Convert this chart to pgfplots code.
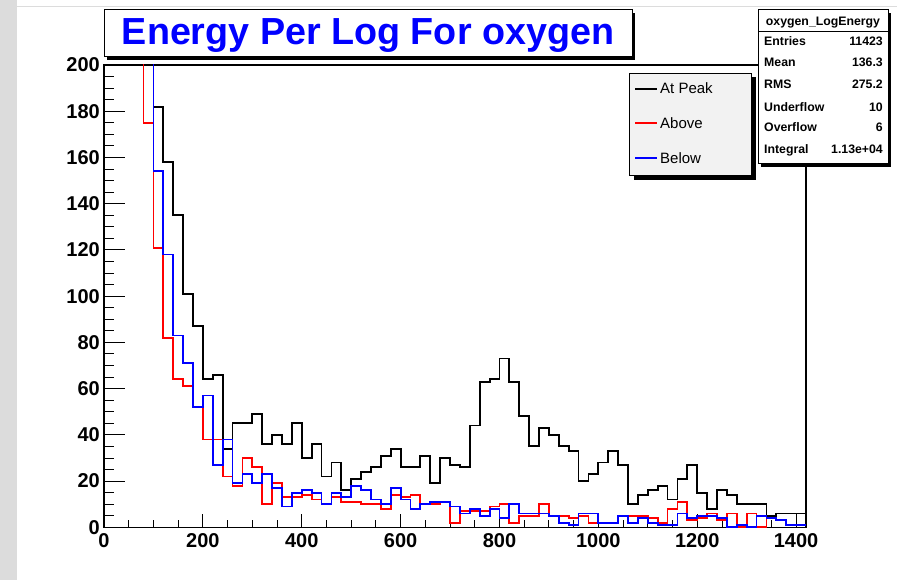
\documentclass[border=0pt]{standalone}
\usepackage{pgfplots}
\pgfplotsset{compat=1.18}
\usepackage{pgfplotstable}
\usepackage{fontspec}
\setmainfont{Liberation Sans}

\definecolor{histred}{rgb}{1,0,0}
\definecolor{histblue}{rgb}{0,0,1}
\definecolor{sidegray}{RGB}{220,220,220}
\definecolor{legendfill}{RGB}{242,242,242}

% bin left edges (width 20) and counts; last row closes the final bin
\pgfplotstableread{
x y
0 3000
20 2600
40 1800
60 900
80 400
100 182
120 158
140 135
160 101
180 87
200 64
220 66
240 34
260 45
280 45
300 49
320 36
340 40
360 36
380 45
400 30
420 36
440 22
460 28
480 16
500 21
520 24
540 26
560 31
580 34
600 26
620 26
640 31
660 19
680 30
700 27
720 26
740 44
760 63
780 64
800 73
820 63
840 48
860 35
880 43
900 40
920 35
940 33
960 20
980 23
1000 28
1020 33
1040 27
1060 10
1080 14
1100 16
1120 18
1140 12
1160 21
1180 27
1200 15
1220 8
1240 16
1260 14
1280 10
1300 10
1320 10
1340 5
1360 6
1380 6
1400 6
1420 6
}\tabpeak

\pgfplotstableread{
x y
0 2000
20 1600
40 900
60 300
80 175
100 121
120 82
140 64
160 61
180 52
200 38
220 38
240 22
260 18
280 30
300 26
320 10
340 19
360 13
380 13
400 14
420 12
440 10
460 13
480 11
500 11
520 10
540 10
560 8
580 14
600 13
620 14
640 10
660 10
680 11
700 2
720 7
740 7
760 7
780 9
800 10
820 2
840 5
860 5
880 10
900 5
920 5
940 4
960 5
980 2
1000 2
1020 2
1040 5
1060 5
1080 5
1100 4
1120 2
1140 8
1160 11
1180 3
1200 4
1220 6
1240 3
1260 6
1280 0
1300 6
1320 0
1340 4
1360 3
1380 1
1400 1
1420 1
}\tababove

\pgfplotstableread{
x y
0 2200
20 1900
40 1000
60 500
80 260
100 154
120 118
140 83
160 71
180 52
200 57
220 27
240 38
260 19
280 23
300 19
320 23
340 17
360 9
380 15
400 16
420 15
440 10
460 15
480 13
500 18
520 16
540 12
560 10
580 17
600 12
620 8
640 10
660 11
680 11
700 9
720 6
740 8
760 5
780 8
800 4
820 10
840 6
860 6
880 6
900 5
920 2
940 1
960 6
980 6
1000 2
1020 2
1040 5
1060 2
1080 4
1100 2
1120 1
1140 1
1160 6
1180 4
1200 5
1220 5
1240 4
1260 0
1280 1
1300 0
1320 5
1340 4
1360 3
1380 1
1400 1
1420 1
}\tabbelow

\pgfplotsset{
  histframe/.style={
    at={(104pt,-527.3pt)}, anchor=south west,
    scale only axis, width=702pt, height=462.3pt,
    xmin=0, xmax=1420, ymin=0, ymax=200,
    tick align=inside,
    tick style={line width=0.9pt, black},
    /pgf/number format/assume math mode=true,
    /pgf/number format/1000 sep={},
    ticklabel style={font=\fontsize{20}{20}\selectfont\bfseries, inner sep=0pt},
  },
}

\begin{document}
\begin{tikzpicture}
  \path[use as bounding box] (0,0) rectangle (897pt,-580pt);
  \fill[white] (0,0) rectangle (897pt,-580pt);
  \fill[sidegray] (0,0) rectangle (17pt,-580pt);
  \draw[sidegray, line width=1pt] (17pt,-6.5pt) -- (897pt,-6.5pt);

  % histogram frame with x ticks and the three distributions
  \begin{axis}[histframe,
      xtick={0,200,...,1400}, minor x tick num=3,
      ytick=\empty, xtick pos=left,
      major tick length=13pt, minor tick length=7pt,
      axis line style={line width=1.1pt},
      xticklabel style={anchor=north, yshift=-6pt},
    ]
    \addplot[const plot, color=black, line width=1.8pt] table[x=x, y=y] {\tabpeak};
    \addplot[const plot, color=histred, line width=1.8pt] table[x=x, y=y] {\tababove};
    \addplot[const plot, color=histblue, line width=1.8pt] table[x=x, y=y] {\tabbelow};
  \end{axis}

  % y ticks (longer than the x ticks)
  \begin{axis}[histframe,
      ytick={0,20,...,200}, minor y tick num=3,
      xtick=\empty, ytick pos=left,
      major tick length=21pt, minor tick length=10pt,
      axis line style={draw=none},
      yticklabel style={anchor=east, xshift=-4pt},
    ]
  \end{axis}

  % title box
  \fill[black] (107pt,-13pt) rectangle (635pt,-60pt);
  \filldraw[fill=white, draw=black, line width=1pt] (104pt,-10pt) rectangle (632pt,-57pt);
  \node[font=\fontsize{37.7}{40}\selectfont\bfseries, text=histblue, anchor=base, inner sep=0pt]
    at (368pt,-45pt) {Energy Per Log For oxygen};

  % legend
  \fill[black] (633.5pt,-77.5pt) rectangle (755.5pt,-180pt);
  \filldraw[fill=legendfill, draw=black, line width=1pt] (629.5pt,-73.5pt) rectangle (751.5pt,-176pt);
  \begin{scope}[every node/.style={font=\fontsize{15}{16}\selectfont, anchor=base west, inner sep=0pt}]
    \draw[color=black, line width=1.5pt] (635pt,-89pt) -- (657pt,-89pt);
    \node at (660pt,-94pt) {At Peak};
    \draw[color=histred, line width=1.5pt] (635pt,-123pt) -- (657pt,-123pt);
    \node at (660pt,-128.5pt) {Above};
    \draw[color=histblue, line width=1.5pt] (635pt,-158pt) -- (657pt,-158pt);
    \node at (660pt,-163.5pt) {Below};
  \end{scope}

  % statistics box
  \fill[black] (761pt,-13pt) rectangle (891pt,-167pt);
  \filldraw[fill=white, draw=black, line width=1pt] (758pt,-10pt) rectangle (888pt,-164pt);
  \draw[black, line width=0.8pt] (758pt,-31.5pt) -- (888pt,-31.5pt);
  \begin{scope}[every node/.style={font=\fontsize{12.3}{13}\selectfont\bfseries, inner sep=0pt}]
    \node[anchor=base] at (823pt,-25.5pt) {oxygen\_LogEnergy};
    \node[anchor=base west] at (764pt,-45.5pt) {Entries};
    \node[anchor=base east] at (883pt,-45.5pt) {11423};
    \node[anchor=base west] at (764pt,-67pt) {Mean};
    \node[anchor=base east] at (883pt,-67pt) {136.3};
    \node[anchor=base west] at (764pt,-89pt) {RMS};
    \node[anchor=base east] at (883pt,-89pt) {275.2};
    \node[anchor=base west] at (764pt,-111.3pt) {Underflow};
    \node[anchor=base east] at (883pt,-111.3pt) {10};
    \node[anchor=base west] at (764pt,-132pt) {Overflow};
    \node[anchor=base east] at (883pt,-132pt) {6};
    \node[anchor=base west] at (764pt,-154pt) {Integral};
    \node[anchor=base east] at (883pt,-154pt) {1.13e+04};
  \end{scope}
\end{tikzpicture}
\end{document}
